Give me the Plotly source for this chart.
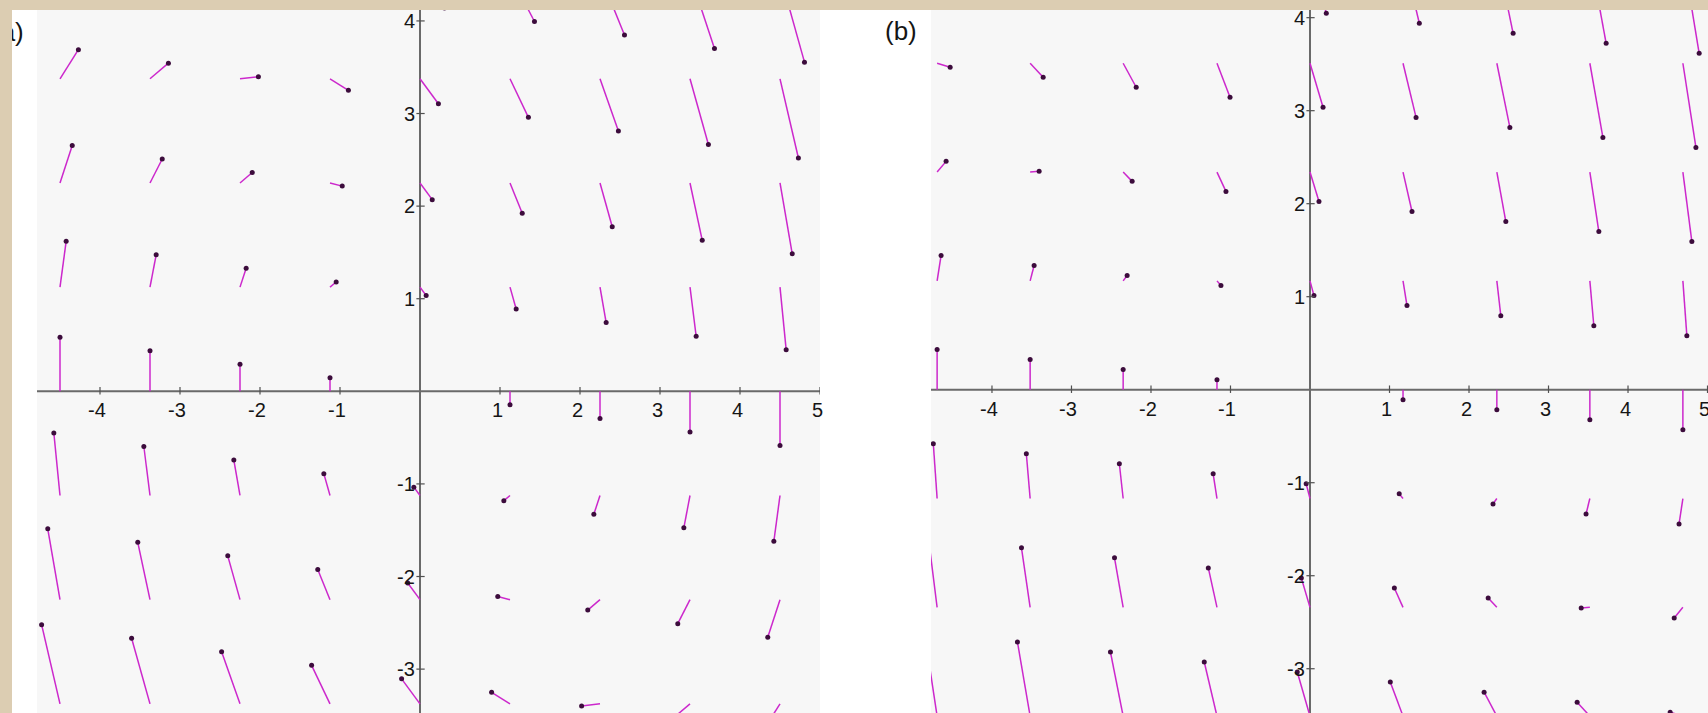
import plotly.graph_objects as go

W, H = 1708, 713

# ---------------- data: panel (a) ----------------
xa_grid = [-4.5, -3.375, -2.25, -1.125, 0.0, 1.125, 2.25, 3.375, 4.5]
ya_grid = [-3.375, -2.25, -1.125, 0.0, 1.125, 2.25, 3.375, 4.5]
# horizontal component of each vector, one value per row (same along a row)
dxa_rows = [-0.23, -0.153, -0.077, 0.0, 0.077, 0.153, 0.23, 0.306]
# vertical component, rows (bottom -> top) x columns (left -> right)
dya = [
    [0.855, 0.709, 0.563, 0.416, 0.27, 0.124, -0.023, -0.169, -0.315],
    [0.765, 0.619, 0.473, 0.326, 0.18, 0.034, -0.113, -0.259, -0.405],
    [0.675, 0.529, 0.383, 0.236, 0.09, -0.056, -0.203, -0.349, -0.495],
    [0.585, 0.439, 0.293, 0.146, 0.0, -0.146, -0.293, -0.439, -0.585],
    [0.495, 0.349, 0.203, 0.056, -0.09, -0.236, -0.383, -0.529, -0.675],
    [0.405, 0.259, 0.113, -0.034, -0.18, -0.326, -0.473, -0.619, -0.765],
    [0.315, 0.169, 0.023, -0.124, -0.27, -0.416, -0.563, -0.709, -0.855],
    [0.225, 0.079, -0.067, -0.214, -0.36, -0.506, -0.653, -0.799, -0.945],
]

# ---------------- data: panel (b) ----------------
xb_grid = [-4.69, -3.52, -2.35, -1.17, 0.0, 1.17, 2.35, 3.52, 4.69]
yb_grid = [-3.51, -2.34, -1.17, 0.0, 1.17, 2.34, 3.51, 4.68]
dxb_rows = [-0.16, -0.109, -0.048, 0.0, 0.05, 0.113, 0.164, 0.205]
dyb = [
    [0.905, 0.798, 0.690, 0.582, 0.474, 0.366, 0.258, 0.150, 0.043],
    [0.747, 0.640, 0.532, 0.424, 0.316, 0.208, 0.100, -0.008, -0.115],
    [0.589, 0.482, 0.374, 0.266, 0.158, 0.050, -0.058, -0.166, -0.273],
    [0.431, 0.324, 0.216, 0.108, 0.0, -0.108, -0.216, -0.324, -0.431],
    [0.273, 0.166, 0.058, -0.050, -0.158, -0.266, -0.374, -0.482, -0.589],
    [0.115, 0.008, -0.100, -0.208, -0.316, -0.424, -0.532, -0.640, -0.747],
    [-0.043, -0.150, -0.258, -0.366, -0.474, -0.582, -0.690, -0.798, -0.905],
    [-0.201, -0.308, -0.416, -0.524, -0.632, -0.740, -0.848, -0.956, -1.063],
]

# tick labels
xtick_vals = [-4, -3, -2, -1, 1, 2, 3, 4, 5]
ytick_vals = [-3, -2, -1, 1, 2, 3, 4]
panel_labels = ["(a)", "(b)"]

LINE_COL = "#cc28cc"
DOT_COL = "#3c0c3c"
AXIS_COL = "#6a6a6a"
TXT_COL = "#151515"
FONT = "Arial, Liberation Sans, sans-serif"
BEIGE = "#dccdb2"

fig = go.Figure()


def add_field(xg, yg, dxr, dy, xref, yref):
    lx, ly, hx, hy = [], [], [], []
    for i, y in enumerate(yg):
        for j, x in enumerate(xg):
            ddx, ddy = dxr[i], dy[i][j]
            if ddx == 0 and ddy == 0:
                continue
            lx += [x, x + ddx, None]
            ly += [y, y + ddy, None]
            hx.append(x + ddx)
            hy.append(y + ddy)
    fig.add_trace(go.Scatter(x=lx, y=ly, mode="lines", xaxis=xref, yaxis=yref,
                             line=dict(color=LINE_COL, width=1.5),
                             hoverinfo="skip", showlegend=False))
    fig.add_trace(go.Scatter(x=hx, y=hy, mode="markers", xaxis=xref, yaxis=yref,
                             marker=dict(color=DOT_COL, size=5),
                             cliponaxis=True, hoverinfo="skip", showlegend=False))


def add_ticks(xref, yref, tx, ty):
    px, py = [], []
    for v in xtick_vals:
        px += [v, v, None]
        py += [-ty, ty * 1.3, None]
    for v in ytick_vals:
        px += [-tx, tx * 1.3, None]
        py += [v, v, None]
    fig.add_trace(go.Scatter(x=px, y=py, mode="lines", xaxis=xref, yaxis=yref,
                             line=dict(color="#505050", width=1.2),
                             hoverinfo="skip", showlegend=False))


add_field(xa_grid, ya_grid, dxa_rows, dya, "x", "y")
add_field(xb_grid, yb_grid, dxb_rows, dyb, "x2", "y2")
add_ticks("x", "y", 0.045, 0.035)
add_ticks("x2", "y2", 0.045, 0.035)

xa_range = [-4.7875, 5.0]
ya_range = [-3.474, 4.226]
xb_range = [-4.767, 5.006]
yb_range = [-3.476, 4.19]

ax_common = dict(visible=False, showgrid=False, zeroline=False, fixedrange=True)
fig.update_layout(
    width=W, height=H,
    margin=dict(l=0, r=0, t=0, b=0),
    paper_bgcolor="white",
    plot_bgcolor="#f7f7f7",
    xaxis=dict(domain=[37 / W, 820 / W], range=xa_range, **ax_common),
    yaxis=dict(domain=[0, 1], range=ya_range, **ax_common),
    xaxis2=dict(domain=[931 / W, 1.0], range=xb_range, anchor="y2", **ax_common),
    yaxis2=dict(domain=[0, 1], range=yb_range, anchor="x2", **ax_common),
)

shapes = []
for xr, yr, xrng, yrng, xend in [("x", "y", xa_range, ya_range, 5.0),
                                  ("x2", "y2", xb_range, yb_range, xb_range[1])]:
    shapes.append(dict(type="line", xref=xr, yref=yr, x0=xrng[0], x1=xend, y0=0, y1=0,
                       line=dict(color=AXIS_COL, width=2), layer="below"))
    shapes.append(dict(type="line", xref=xr, yref=yr, x0=0, x1=0, y0=yrng[0], y1=yrng[1],
                       line=dict(color=AXIS_COL, width=2), layer="below"))
# beige paper frame (top strip)
shapes.append(dict(type="rect", xref="paper", yref="paper", x0=0, x1=1, y0=1 - 10 / H, y1=1,
                   fillcolor=BEIGE, line=dict(width=0), layer="above"))
fig.update_layout(shapes=shapes)

ann = []
for xr, yr in [("x", "y"), ("x2", "y2")]:
    for v in xtick_vals:
        ann.append(dict(x=v, y=0, xref=xr, yref=yr, text=str(v), showarrow=False,
                        xanchor="center", yanchor="top", xshift=-3, yshift=-6,
                        font=dict(family=FONT, size=20, color=TXT_COL)))
    for v in ytick_vals:
        ann.append(dict(x=0, y=v, xref=xr, yref=yr, text=str(v), showarrow=False,
                        xanchor="right", yanchor="middle", xshift=-3, yshift=0,
                        font=dict(family=FONT, size=20, color=TXT_COL)))
# panel labels
ann.append(dict(x=26 / W, y=1 - 32 / H, xref="paper", yref="paper", text=panel_labels[0],
                showarrow=False, xanchor="right", yanchor="middle",
                font=dict(family=FONT, size=26, color=TXT_COL)))
ann.append(dict(x=901 / W, y=1 - 31 / H, xref="paper", yref="paper", text=panel_labels[1],
                showarrow=False, xanchor="center", yanchor="middle",
                font=dict(family=FONT, size=26, color=TXT_COL)))
# left beige strip drawn as an (empty) annotation box so it sits above the "(a)" label
ann.append(dict(x=0, y=0, xref="paper", yref="paper", text="", showarrow=False,
                xanchor="left", yanchor="bottom", width=12, height=H,
                bgcolor=BEIGE, borderpad=0, borderwidth=0))
fig.update_layout(annotations=ann)

fig.write_html("out.html", config={"displayModeBar": False},
               post_script="document.body.style.margin='0';document.body.style.overflow='hidden';")
